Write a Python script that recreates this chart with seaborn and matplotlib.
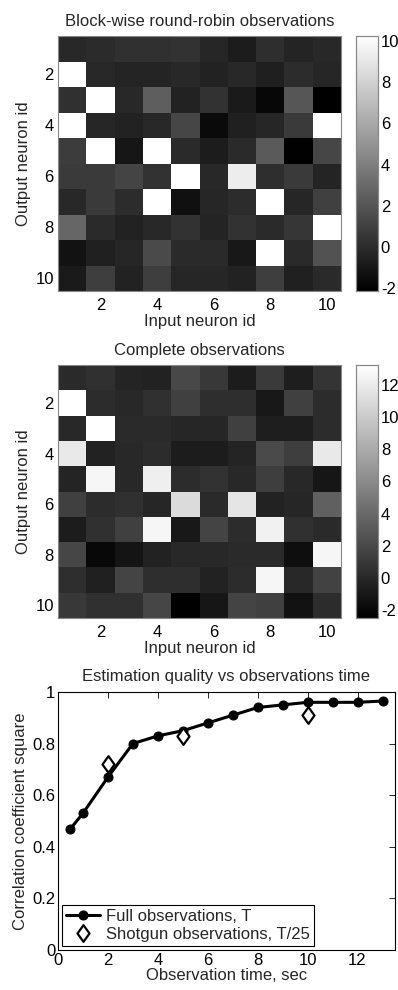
import numpy as np
import pandas as pd
import matplotlib
matplotlib.use("Agg")
import matplotlib.pyplot as plt
from matplotlib.path import Path
import seaborn as sns

# ---------------- data ----------------
neuron_ids = list(range(1, 11))
tick_labels = ["2", "4", "6", "8", "10"]

roundrobin = [
    [-0.18, -0.03, 0.21, 0.21, 0.30, -0.27, -0.75, 0.11, -0.37, -0.18],
    [10.3, -0.18, -0.37, -0.37, -0.18, -0.46, -0.18, -0.60, 0.00, -0.27],
    [0.21, 10.3, -0.18, 2.43, -0.46, 0.30, -0.85, -1.80, 2.04, -2.15],
    [10.3, -0.27, -0.46, -0.18, 1.27, -1.62, -0.56, -0.27, 0.69, 10.3],
    [0.79, 10.3, -1.04, 10.3, -0.08, -0.75, -0.08, 2.23, -2.10, 1.27],
    [0.69, 0.69, 1.17, 0.30, 10.3, -0.18, 9.37, 0.11, 0.69, -0.37],
    [-0.18, 0.69, 0.02, 10.3, -1.33, -0.27, 0.00, 10.3, -0.27, 0.98],
    [2.81, -0.08, -0.46, -0.18, 0.30, -0.37, 0.30, -0.08, 0.50, 10.3],
    [-1.24, -0.56, -0.27, 1.47, -0.08, -0.08, -0.95, 10.3, -0.08, 1.85],
    [-0.85, 0.88, -0.46, 0.88, -0.27, -0.27, -0.46, 0.88, -0.56, -0.08],
]

complete = [
    [0.10, 0.48, -0.27, -0.39, 1.96, 0.97, -0.76, 1.10, -0.64, 0.72],
    [13.3, 0.23, -0.02, 0.48, 1.47, 0.35, 0.35, -1.01, 1.47, 0.23],
    [-0.02, 13.3, 0.10, 0.10, -0.14, -0.14, 1.47, -0.64, -0.64, 0.23],
    [11.88, -0.39, -0.02, 0.23, -0.76, -0.76, -0.27, 2.09, 1.34, 11.88],
    [-0.27, 12.69, -0.02, 12.26, 0.23, 0.60, -0.02, 1.34, -0.02, -1.14],
    [1.47, 0.23, 0.48, -0.14, 11.02, 0.10, 11.64, -0.39, -0.14, 3.45],
    [-0.76, 0.48, 1.47, 12.69, -1.01, 1.72, 0.23, 12.38, 0.48, 0.10],
    [1.84, -2.00, -1.26, -0.39, -0.02, -0.02, 0.10, 0.10, -1.63, 12.69],
    [0.35, -0.52, 1.72, 0.35, 0.35, -0.39, 0.23, 12.69, -0.02, 1.59],
    [0.97, 0.48, 0.48, 1.84, -2.50, -1.14, 1.72, 1.47, -1.38, 0.23],
]

full_time = [0.5, 1, 2, 3, 4, 5, 6, 7, 8, 9, 10, 11, 12, 13]
full_r2 = [0.47, 0.53, 0.67, 0.80, 0.83, 0.85, 0.88, 0.91, 0.94, 0.95, 0.96, 0.96, 0.96, 0.965]
shotgun_time = [2, 5, 10]
shotgun_r2 = [0.72, 0.83, 0.91]

# ---------------- style ----------------
FS = 12
sns.set_style("white")
plt.rcParams["font.family"] = ["Liberation Sans", "DejaVu Sans"]
plt.rcParams["font.size"] = FS
plt.rcParams["xtick.direction"] = "in"
plt.rcParams["ytick.direction"] = "in"

W, H = 398, 990
fig = plt.figure(figsize=(W / 100, H / 100), dpi=100)


def rect(l, t, r, b):
    return [l / W, (H - b) / H, (r - l) / W, (b - t) / H]


def draw_heat(data, ax_rect, cax_rect, vmin, vmax, cticks, title):
    ax = fig.add_axes(rect(*ax_rect))
    cax = fig.add_axes(rect(*cax_rect))
    df = pd.DataFrame(data, index=neuron_ids, columns=neuron_ids)
    sns.heatmap(df, ax=ax, cmap="gray", vmin=vmin, vmax=vmax, cbar_ax=cax,
                square=False, xticklabels=False, yticklabels=False)
    pos = [i + 0.5 for i in range(1, 10, 2)]
    ax.set_xticks(pos)
    ax.set_xticklabels(tick_labels, rotation=0, fontsize=FS)
    ax.set_yticks(pos)
    ax.set_yticklabels(tick_labels, rotation=0, fontsize=FS)
    ax.tick_params(direction="in", length=3, width=0.6, colors="#888888",
                   labelcolor="black", top=True, right=True)
    ax.tick_params(axis="x", pad=5)
    ax.tick_params(axis="y", pad=3)
    ax.set_xlabel("Input neuron id", fontsize=FS, labelpad=1)
    ax.set_ylabel("Output neuron id", fontsize=FS, labelpad=3)
    ax.set_title(title, fontsize=FS, pad=7)
    for s in ax.spines.values():
        s.set_visible(True)
        s.set_color("#888888")
        s.set_linewidth(0.8)
    cax.set_yticks(cticks)
    cax.set_yticklabels([str(t) for t in cticks], fontsize=FS)
    cax.tick_params(direction="in", length=3, width=0.6, colors="#888888",
                    labelcolor="black", right=True, left=True, pad=2)
    for s in cax.spines.values():
        s.set_visible(True)
        s.set_color("#888888")
        s.set_linewidth(0.8)
    return ax


draw_heat(roundrobin, (58, 36, 341, 291), (356, 36, 378, 291), -2.15, 10.25,
          [-2, 0, 2, 4, 6, 8, 10], "Block-wise round-robin observations")
draw_heat(complete, (58, 365, 341, 618), (356, 365, 378, 618), -2.5, 13.25,
          [-2, 0, 2, 4, 6, 8, 10, 12], "Complete observations")

# ---------------- line plot ----------------
ax3 = fig.add_axes(rect(58, 692, 395, 950))
df_full = pd.DataFrame({"t": full_time, "r2": full_r2})
df_shot = pd.DataFrame({"t": shotgun_time, "r2": shotgun_r2})
sns.lineplot(data=df_full, x="t", y="r2", ax=ax3, color="black", linewidth=2.2,
             marker="o", markersize=6.5, markeredgecolor="black",
             label="Full observations, T")
diamond = Path([(0, 1), (0.72, 0), (0, -1), (-0.72, 0), (0, 1)],
               [Path.MOVETO, Path.LINETO, Path.LINETO, Path.LINETO, Path.CLOSEPOLY])
ax3.plot(df_shot["t"], df_shot["r2"], linestyle="none", marker=diamond,
         markersize=12, markerfacecolor="white", markeredgecolor="black",
         markeredgewidth=1.6, label="Shotgun observations, T/25")
ax3.set_xlim(0, 13.5)
ax3.set_ylim(0, 1)
ax3.set_xticks([0, 2, 4, 6, 8, 10, 12])
ax3.set_xticklabels(["0", "2", "4", "6", "8", "10", "12"], fontsize=FS)
ax3.set_yticks([0, 0.2, 0.4, 0.6, 0.8, 1])
ax3.set_yticklabels(["0", "0.2", "0.4", "0.6", "0.8", "1"], fontsize=FS)
ax3.tick_params(direction="in", length=4, width=0.6, top=True, right=True,
                colors="black", pad=2)
ax3.set_xlabel("Observation time, sec", fontsize=FS, labelpad=0)
ax3.set_ylabel("Correlation coefficient square", fontsize=FS, labelpad=3)
ax3.set_title("Estimation quality vs observations time", fontsize=FS, pad=8)
for s in ax3.spines.values():
    s.set_visible(True)
    s.set_color("black")
    s.set_linewidth(0.8)
leg = ax3.legend(loc="lower left", fontsize=FS, frameon=True, fancybox=False,
                 edgecolor="black", framealpha=1, borderaxespad=0.25,
                 handlelength=2.0, handletextpad=0.4, borderpad=0.25,
                 labelspacing=0.15)
leg.get_frame().set_linewidth(0.8)

fig.savefig("out.png", dpi=100)
